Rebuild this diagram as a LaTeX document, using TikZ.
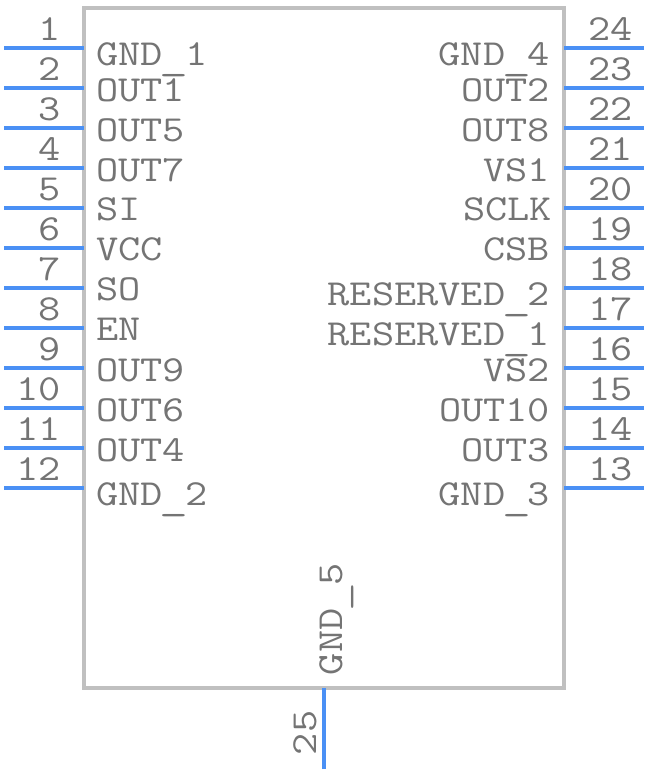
\documentclass[tikz,border=0pt]{standalone}
\usepackage{fontspec}
\usepackage{graphicx}
\newfontfamily\pinfont[FakeStretch=1.175]{Latin Modern Mono}
\newcommand{\usc}{\makebox[16.95pt]{\raisebox{-3.2pt}{\scalebox{1.3}[1]{\_}}}}
\definecolor{pinblue}{HTML}{4A90F5}
\definecolor{bodygrey}{HTML}{C0C0C0}
\definecolor{textgrey}{HTML}{747474}
\tikzset{
  x=0.75pt,y=-0.75pt,
  pinline/.style={draw=pinblue,line width=3pt},
  bodybox/.style={draw=bodygrey,line width=3pt,line join=miter},
  lab/.style={text=textgrey,font=\pinfont\fontsize{27.5}{27}\selectfont,inner sep=0pt,outer sep=0pt},
  leftlab/.style={lab,anchor=base west},
  rightlab/.style={lab,anchor=base east},
  numl/.style={lab,anchor=base east},
  numr/.style={lab,anchor=base west},
}
\begin{document}
\begin{tikzpicture}
\useasboundingbox (0,0) rectangle (648,772);
\draw[bodybox] (84,8) rectangle (564,688);
\foreach \n [count=\i from 0] in {1,2,3,4,5,6,7,8,9,10,11,12}{
  \pgfmathsetmacro\py{48+40*\i}
  \coordinate (la\n) at (4,\py);
  \coordinate (lb\n) at (84,\py);
  \draw[pinline] (la\n) -- (lb\n);
  \node[numl] (ln\n) at (61,\py-8) {\n};
}
\foreach \n [count=\i from 0] in {24,23,22,21,20,19,18,17,16,15,14,13}{
  \pgfmathsetmacro\py{48+40*\i}
  \coordinate (ra\n) at (644,\py);
  \coordinate (rb\n) at (564,\py);
  \draw[pinline] (ra\n) -- (rb\n);
  \node[numr] (rn\n) at (588,\py-8) {\n};
}
\node[leftlab] (t1) at (96,65) {GND\usc 1};
\node[leftlab] (t2) at (96,101) {OUT1};
\node[leftlab] (t3) at (96,141) {OUT5};
\node[leftlab] (t4) at (96,181) {OUT7};
\node[leftlab] (t5) at (96,220) {SI};
\node[leftlab] (t6) at (96,260) {VCC};
\node[leftlab] (t7) at (96,300) {SO};
\node[leftlab] (t8) at (96,340) {EN};
\node[leftlab] (t9) at (96,381) {OUT9};
\node[leftlab] (t10) at (96,421) {OUT6};
\node[leftlab] (t11) at (96,461) {OUT4};
\node[leftlab] (t12) at (96,505) {GND\usc 2};
\node[rightlab] (t24) at (550,65) {GND\usc 4};
\node[rightlab] (t23) at (550,101) {OUT2};
\node[rightlab] (t22) at (550,141) {OUT8};
\node[rightlab] (t21) at (550,181) {VS1};
\node[rightlab] (t20) at (552,220) {SCLK};
\node[rightlab] (t19) at (550,260) {CSB};
\node[rightlab] (t18) at (550,305) {RESERVED\usc 2};
\node[rightlab] (t17) at (550,345) {RESERVED\usc 1};
\node[rightlab] (t16) at (550,381) {VS2};
\node[rightlab] (t15) at (550,421) {OUT10};
\node[rightlab] (t14) at (550,461) {OUT3};
\node[rightlab] (t13) at (550,505) {GND\usc 3};
\coordinate (pa25) at (324,769);
\coordinate (pb25) at (324,688);
\draw[pinline] (pa25) -- (pb25);
\node[lab,anchor=base west,rotate=90] (pn25) at (316,755) {25};
\node[lab,anchor=base west,rotate=90] (t25) at (342,675) {GND\usc 5};
\end{tikzpicture}
\end{document}
